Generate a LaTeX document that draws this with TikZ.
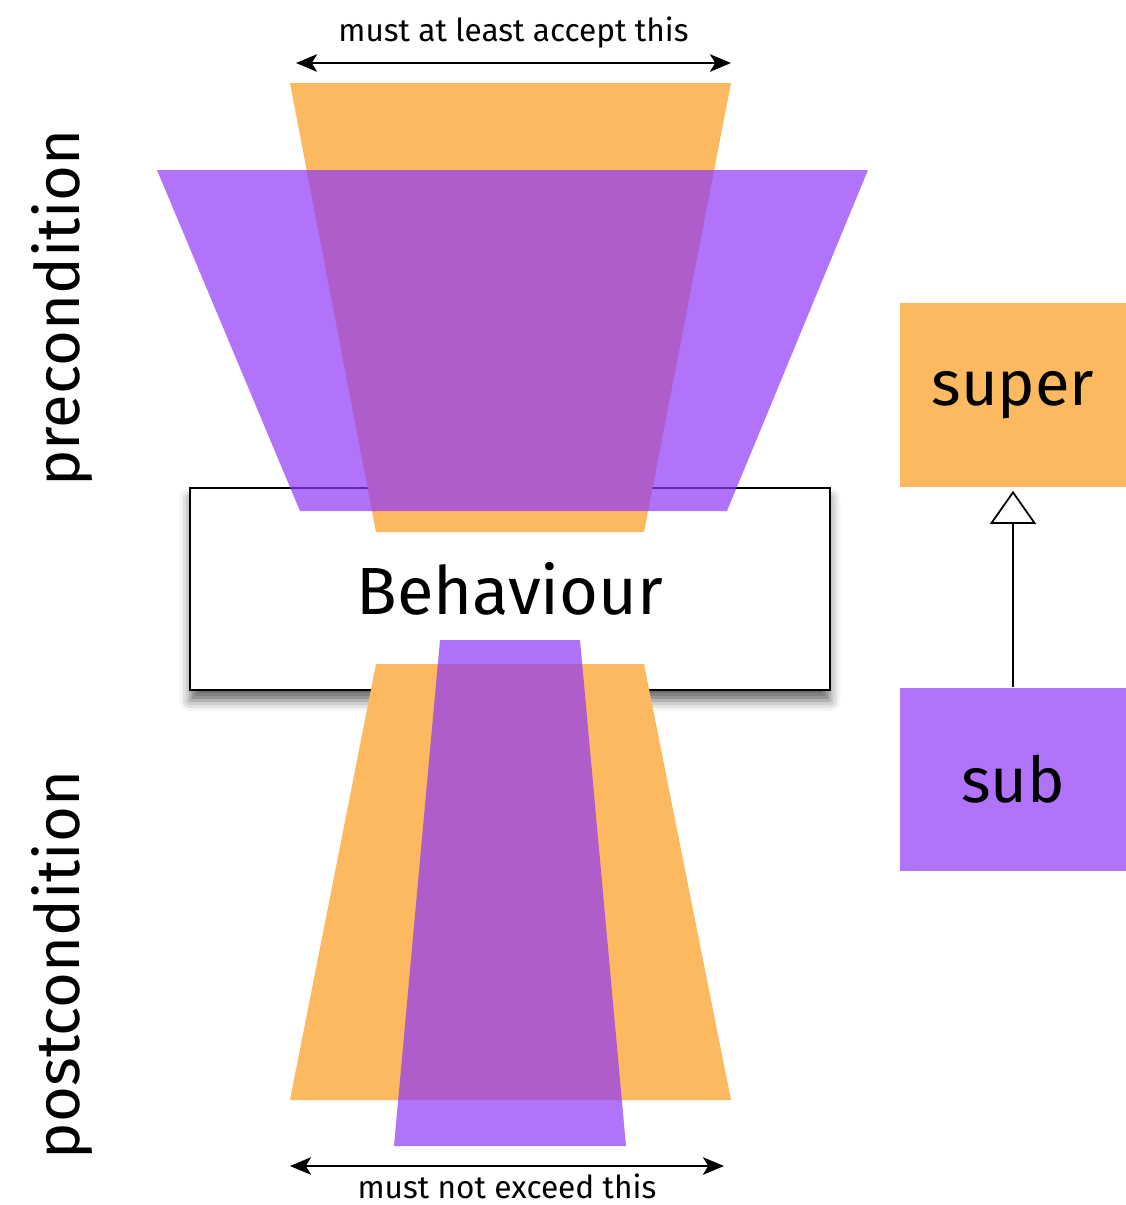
\documentclass[tikz,border=0pt]{standalone}
\usepackage{fontspec}
\setmainfont{Fira Sans}
\usetikzlibrary{arrows.meta,positioning,shadows.blur}
\definecolor{superorange}{RGB}{253,185,95}
\definecolor{subpurple}{RGB}{142,55,248}
\begin{document}
\begin{tikzpicture}[x=0.02cm, y=-0.02cm,
  pre/.style={fill=superorange},
  post/.style={fill=subpurple, fill opacity=0.7},
  note/.style={inner sep=1pt, font=\fontsize{18}{20}\selectfont},
  side/.style={rotate=90, font=\fontsize{35}{38}\selectfont},
  span/.style={{Stealth[length=12pt,width=10pt,inset=3pt]}-{Stealth[length=12pt,width=10pt,inset=3pt]}, line width=1pt},
  cls/.style={minimum width=4.52cm, minimum height=3.68cm, inner sep=0pt, font=\fontsize{36}{40}\selectfont}]
  \useasboundingbox (0,0) rectangle (1126,1205);
  % behaviour box
  \node[draw, line width=1pt, fill=white, minimum width=12.8cm, minimum height=4.04cm,
    blur shadow={shadow xshift=0pt, shadow yshift=-6pt, shadow blur radius=6pt, shadow opacity=60},
    font=\fontsize{38}{42}\selectfont] (beh) at (510,589) {Behaviour};
  % precondition cones
  \fill[pre]  (290,83) -- (731,83) -- (644,532) -- (376,532) -- cycle;
  \fill[post] (157,170) -- (868,170) -- (727,511) -- (300,511) -- cycle;
  % postcondition cones
  \fill[pre]  (376,664) -- (644,664) -- (731,1100) -- (290,1100) -- cycle;
  \fill[post] (440,640) -- (580,640) -- (626,1146) -- (394,1146) -- cycle;
  % width arrows
  \coordinate (accL) at (296,63);
  \coordinate (accR) at (731,63);
  \draw[span] (accL) -- (accR) node[note, midway, above=7pt] (acc) {must at least accept this};
  \coordinate (excL) at (290,1166);
  \coordinate (excR) at (724,1166);
  \draw[span] (excL) -- (excR) node[note, midway, below=3pt] (exc) {must not exceed this};
  % side labels
  \node[side] (prec) at (62,308) {precondition};
  \node[side] (postc) at (62,965) {postcondition};
  % classes
  \node[cls, fill=superorange] (super) at (1013,395) {super};
  \node[cls, fill=subpurple, fill opacity=0.7, text opacity=1] (sub) at (1013,779.5) {sub};
  \draw[line width=1pt, shorten >=2pt, -{Triangle[open, length=0.66cm, width=0.92cm]}] (sub) -- (super);
\end{tikzpicture}
\end{document}
